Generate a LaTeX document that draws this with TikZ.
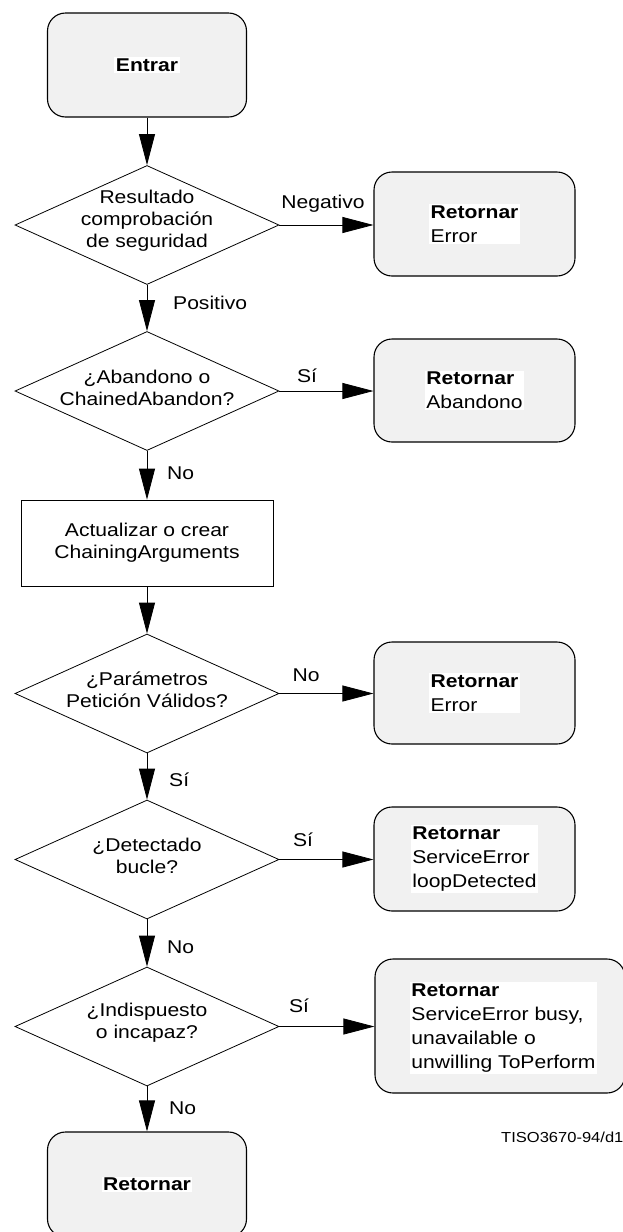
\documentclass[tikz,border=0pt]{standalone}
\usepackage{fontspec}
\setmainfont[FakeStretch=1.14]{Liberation Sans}
\usetikzlibrary{arrows.meta, shapes.geometric}
\definecolor{boxgray}{RGB}{241,241,241}
\newcommand{\lblfont}{\fontsize{18.5}{22}\selectfont}
\newcommand{\retfont}{\fontsize{18.5}{24}\selectfont}

\begin{document}
\begin{tikzpicture}[x=1pt,y=1pt,yscale=-1,xscale=1,
    retbox/.style={draw, rounded corners=18pt, fill=boxgray, line width=1.1pt, minimum width=200pt, minimum height=104pt},
    decision/.style={draw, diamond, inner sep=0pt, minimum width=264pt, minimum height=119pt, line width=0.8pt},
    process/.style={draw, rectangle, inner sep=0pt, minimum width=252pt, minimum height=86pt, line width=0.8pt},
    rettext/.style={fill=white, align=left, inner sep=1.5pt, font=\retfont},
    dtext/.style={align=center, inner sep=0pt, font=\lblfont},
    lbl/.style={inner sep=0pt, font=\lblfont},
    arr/.style={line width=0.8pt, -{Triangle[length=31pt,width=16pt]}}]
        \useasboundingbox (0,0) rectangle (623,1232);

        % Start
        \node[retbox, minimum width=199pt] (entrar) at (147,65) {};
        \node[rettext] (entrart) at (entrar) {\textbf{Entrar}};

        % Decisions
        \node[decision] (d1) at (147,225) {};
        \node[dtext] (d1t) at (147,221) {Resultado\\comprobación\\de seguridad};
        \node[decision] (d2) at (147,391) {};
        \node[dtext] (d2t) at (147,388) {¿Abandono o\\ChainedAbandon?};
        \node[process] (act) at (147,543) {};
        \node[dtext] (actt) at (act) {Actualizar o crear\\ChainingArguments};
        \node[decision] (d3) at (147,693.5) {};
        \node[dtext] (d3t) at (147,690) {¿Parámetros\\Petición Válidos?};
        \node[decision] (d4) at (147,859.5) {};
        \node[dtext] (d4t) at (147,856) {¿Detectado\\bucle?};
        \node[decision] (d5) at (147,1026.5) {};
        \node[dtext] (d5t) at (147,1023) {¿Indispuesto\\o incapaz?};

        % End
        \node[retbox, minimum width=199pt, minimum height=105pt] (fin) at (147,1184.5) {};
        \node[rettext] (fint) at (fin) {\textbf{Retornar}};

        % Returns
        \node[retbox, minimum width=201pt] (r1) at (474.5,224) {};
        \node[rettext] (r1t) at (r1) {\textbf{Retornar}\\Error};
        \node[retbox, minimum width=201pt, minimum height=103pt] (r2) at (474.5,390.5) {};
        \node[rettext] (r2t) at (r2) {\textbf{Retornar}\\Abandono};
        \node[retbox, minimum width=201pt, minimum height=102pt] (r3) at (474.5,693) {};
        \node[rettext] (r3t) at (r3) {\textbf{Retornar}\\Error};
        \node[retbox, minimum width=201pt] (r4) at (474.5,859) {};
        \node[rettext] (r4t) at (r4) {\textbf{Retornar}\\ServiceError\\loopDetected};
        \node[retbox, minimum width=250pt, minimum height=134pt] (r5) at (500,1026) {};
        \node[rettext] (r5t) at (503.5,1028) {\textbf{Retornar}\\ServiceError busy,\\unavailable o\\unwilling ToPerform};

        %Straight Lines
        \draw[arr] (entrar) -- (d1);
        \draw[arr] (d1) -- (d2);
        \draw[arr] (d2) -- (act);
        \draw[arr] (act) -- (d3);
        \draw[arr] (d3) -- (d4);
        \draw[arr] (d4) -- (d5);
        \draw[arr] (d5) -- (fin);
        \draw[arr] (d1.east) -- (d1.east -| r1.west);
        \draw[arr] (d2.east) -- (d2.east -| r2.west);
        \draw[arr] (d3.east) -- (d3.east -| r3.west);
        \draw[arr] (d4.east) -- (d4.east -| r4.west);
        \draw[arr] (d5.east) -- (d5.east -| r5.west);

        % Text Node
        \node[lbl, anchor=base] (lneg) at (323,208) {Negativo};
        \node[lbl, anchor=base] (lsi1) at (307,382) {Sí};
        \node[lbl, anchor=base] (lno3) at (306,681) {No};
        \node[lbl, anchor=base] (lsi4) at (303,846) {Sí};
        \node[lbl, anchor=base] (lsi5) at (299,1012) {Sí};
        \node[lbl, anchor=base west] (lpos) at (173,309) {Positivo};
        \node[lbl, anchor=base west] (lno2) at (167,479) {No};
        \node[lbl, anchor=base west] (lsi3) at (169,786) {Sí};
        \node[lbl, anchor=base west] (lno4) at (167,953) {No};
        \node[lbl, anchor=base west] (lno5) at (169,1114) {No};
        % Text Node
        \node[inner sep=0pt, anchor=base west, font=\fontsize{14.5}{18}\selectfont] (ref) at (501,1142) {TISO3670-94/d10};

\end{tikzpicture}
\end{document}
